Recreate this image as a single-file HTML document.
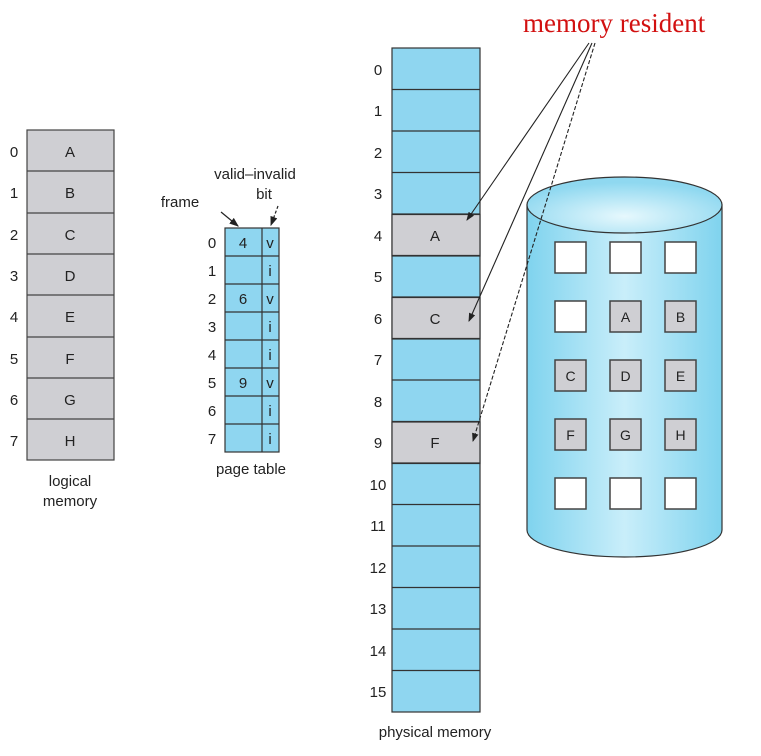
<!DOCTYPE html>
<html><head><meta charset="utf-8"><style>
body{margin:0;background:#fff;}
svg text{font-family:"Liberation Sans",sans-serif;fill:#222;}
</style></head><body>
<svg width="761" height="751" viewBox="0 0 761 751" xmlns="http://www.w3.org/2000/svg">
<defs>
<linearGradient id="cyl" x1="0" x2="1" y1="0" y2="0">
<stop offset="0" stop-color="#7fd3ee"/><stop offset="0.5" stop-color="#c9eefa"/><stop offset="1" stop-color="#7fd3ee"/>
</linearGradient>
<radialGradient id="top" cx="0.5" cy="0.7" r="0.6">
<stop offset="0" stop-color="#e6f8fd"/><stop offset="1" stop-color="#8fd8f0"/>
</radialGradient>
<marker id="ah" markerWidth="8" markerHeight="8" refX="7" refY="4" orient="auto"><path d="M0,1 L8,4 L0,7z" fill="#222"/></marker>
</defs>
<!-- logical memory -->
<g stroke="#444" stroke-width="1.2">
<rect x="27" y="130" width="87" height="330" fill="#cfcfd3"/>
<line x1="27" x2="114" y1="171" y2="171"/><line x1="27" x2="114" y1="213" y2="213"/><line x1="27" x2="114" y1="254" y2="254"/><line x1="27" x2="114" y1="295" y2="295"/><line x1="27" x2="114" y1="337" y2="337"/><line x1="27" x2="114" y1="378" y2="378"/><line x1="27" x2="114" y1="419" y2="419"/>
</g>
<g font-size="15" text-anchor="middle">
<text x="70" y="157">A</text><text x="70" y="198">B</text><text x="70" y="240">C</text><text x="70" y="281">D</text><text x="70" y="322">E</text><text x="70" y="364">F</text><text x="70" y="405">G</text><text x="70" y="446">H</text>
<text x="14" y="157">0</text><text x="14" y="198">1</text><text x="14" y="240">2</text><text x="14" y="281">3</text><text x="14" y="322">4</text><text x="14" y="364">5</text><text x="14" y="405">6</text><text x="14" y="446">7</text>
<text x="70" y="486" font-size="15">logical</text><text x="70" y="506" font-size="15">memory</text>
</g>
<!-- page table -->
<g stroke="#333" stroke-width="1.2">
<rect x="225" y="228" width="54" height="224" fill="#8fd6f0"/>
<line x1="262" x2="262" y1="228" y2="452"/>
<line x1="225" x2="279" y1="256" y2="256"/><line x1="225" x2="279" y1="284" y2="284"/><line x1="225" x2="279" y1="312" y2="312"/><line x1="225" x2="279" y1="340" y2="340"/><line x1="225" x2="279" y1="368" y2="368"/><line x1="225" x2="279" y1="396" y2="396"/><line x1="225" x2="279" y1="424" y2="424"/>
</g>
<g font-size="15" text-anchor="middle">
<text x="212" y="248">0</text><text x="212" y="276">1</text><text x="212" y="304">2</text><text x="212" y="332">3</text><text x="212" y="360">4</text><text x="212" y="388">5</text><text x="212" y="416">6</text><text x="212" y="444">7</text>
<text x="243" y="248">4</text><text x="243" y="304">6</text><text x="243" y="388">9</text>
<text x="270" y="248">v</text><text x="270" y="276">i</text><text x="270" y="304">v</text><text x="270" y="332">i</text><text x="270" y="360">i</text><text x="270" y="388">v</text><text x="270" y="416">i</text><text x="270" y="444">i</text>
<text x="251" y="474">page table</text>
<text x="180" y="207">frame</text>
<text x="255" y="179">valid–invalid</text>
<text x="264" y="199">bit</text>
</g>
<line x1="221" y1="212" x2="238" y2="226" stroke="#222" stroke-width="1.2" marker-end="url(#ah)"/>
<line x1="278" y1="206" x2="271" y2="225" stroke="#222" stroke-width="1.2" stroke-dasharray="3,2" marker-end="url(#ah)"/>
<!-- physical memory -->
<g stroke="#333" stroke-width="1.2">
<rect x="392" y="48" width="88" height="664" fill="#8fd6f0"/>
<rect x="392" y="214.5" width="88" height="41.5" fill="#cfcfd3"/>
<rect x="392" y="297.5" width="88" height="41.5" fill="#cfcfd3"/>
<rect x="392" y="422" width="88" height="41.5" fill="#cfcfd3"/>
</g>
<g stroke="#333" stroke-width="1.2" id="pl"></g>
<g stroke="#333" stroke-width="1.2">
<line x1="392" x2="480" y1="89.5" y2="89.5"/><line x1="392" x2="480" y1="131" y2="131"/><line x1="392" x2="480" y1="172.5" y2="172.5"/><line x1="392" x2="480" y1="214" y2="214"/><line x1="392" x2="480" y1="255.5" y2="255.5"/><line x1="392" x2="480" y1="297" y2="297"/><line x1="392" x2="480" y1="338.5" y2="338.5"/><line x1="392" x2="480" y1="380" y2="380"/><line x1="392" x2="480" y1="421.5" y2="421.5"/><line x1="392" x2="480" y1="463" y2="463"/><line x1="392" x2="480" y1="504.5" y2="504.5"/><line x1="392" x2="480" y1="546" y2="546"/><line x1="392" x2="480" y1="587.5" y2="587.5"/><line x1="392" x2="480" y1="629" y2="629"/><line x1="392" x2="480" y1="670.5" y2="670.5"/>
</g>
<g font-size="15" text-anchor="middle">
<text x="378" y="75">0</text><text x="378" y="116">1</text><text x="378" y="158">2</text><text x="378" y="199">3</text><text x="378" y="241">4</text><text x="378" y="282">5</text><text x="378" y="324">6</text><text x="378" y="365">7</text><text x="378" y="407">8</text><text x="378" y="448">9</text><text x="378" y="490">10</text><text x="378" y="531">11</text><text x="378" y="573">12</text><text x="378" y="614">13</text><text x="378" y="656">14</text><text x="378" y="697">15</text>
<text x="435" y="241">A</text><text x="435" y="324">C</text><text x="435" y="448">F</text>
<text x="435" y="737">physical memory</text>
</g>
<!-- cylinder -->
<path d="M527,205 L527,530 A97.5,27 0 0 0 722,530 L722,205 Z" fill="url(#cyl)" stroke="#333" stroke-width="1.2"/>
<ellipse cx="624.5" cy="205" rx="97.5" ry="28" fill="url(#top)" stroke="#333" stroke-width="1.2"/>
<g stroke="#444" stroke-width="1.5">
<rect x="555" y="242" width="31" height="31" fill="#fff"/><rect x="610" y="242" width="31" height="31" fill="#fff"/><rect x="665" y="242" width="31" height="31" fill="#fff"/>
<rect x="555" y="301" width="31" height="31" fill="#fff"/><rect x="610" y="301" width="31" height="31" fill="#cfcfd3"/><rect x="665" y="301" width="31" height="31" fill="#cfcfd3"/>
<rect x="555" y="360" width="31" height="31" fill="#cfcfd3"/><rect x="610" y="360" width="31" height="31" fill="#cfcfd3"/><rect x="665" y="360" width="31" height="31" fill="#cfcfd3"/>
<rect x="555" y="419" width="31" height="31" fill="#cfcfd3"/><rect x="610" y="419" width="31" height="31" fill="#cfcfd3"/><rect x="665" y="419" width="31" height="31" fill="#cfcfd3"/>
<rect x="555" y="478" width="31" height="31" fill="#fff"/><rect x="610" y="478" width="31" height="31" fill="#fff"/><rect x="665" y="478" width="31" height="31" fill="#fff"/>
</g>
<g font-size="14" text-anchor="middle">
<text x="625.5" y="322">A</text><text x="680.5" y="322">B</text>
<text x="570.5" y="381">C</text><text x="625.5" y="381">D</text><text x="680.5" y="381">E</text>
<text x="570.5" y="440">F</text><text x="625.5" y="440">G</text><text x="680.5" y="440">H</text>
</g>
<!-- arrows -->
<g stroke="#222" stroke-width="1.1" fill="none" marker-end="url(#ah)">
<line x1="589" y1="43" x2="467" y2="220"/>
<line x1="592" y1="43" x2="469" y2="321"/>
<line x1="595" y1="43" x2="473" y2="441" stroke-dasharray="4,2"/>
</g>
<text x="523" y="32" font-family="'Liberation Serif',serif" font-size="27" fill="#d21010" style="fill:#d21010;font-family:'Liberation Serif',serif">memory resident</text>
</svg>
</body></html>
